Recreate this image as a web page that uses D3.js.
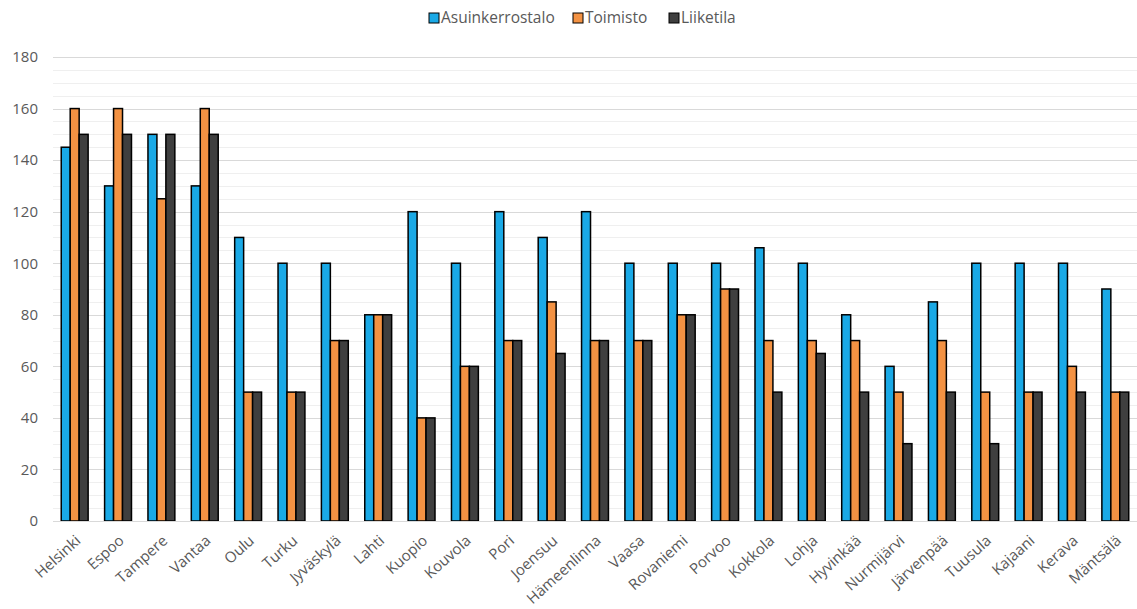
<!DOCTYPE html>
<html>
<head>
<meta charset="utf-8">
<script src="https://cdn.jsdelivr.net/npm/d3@7"></script>
<style>
  body { margin: 0; background: #fff; }
  text { font-family: "Open Sans", "DejaVu Sans", sans-serif; fill: #595959; }
</style>
</head>
<body>
<div id="chart"></div>
<script>
// kaupungit ja sarjat
var cities = ["Helsinki", "Espoo", "Tampere", "Vantaa", "Oulu", "Turku", "Jyväskylä", "Lahti", "Kuopio", "Kouvola",
    "Pori", "Joensuu", "Hämeenlinna", "Vaasa", "Rovaniemi", "Porvoo", "Kokkola", "Lohja", "Hyvinkää", "Nurmijärvi",
    "Järvenpää", "Tuusula", "Kajaani", "Kerava", "Mäntsälä"];
var asuinkerrostalo = [145, 130, 150, 130, 110, 100, 100, 80, 120, 100, 120, 110, 120, 100, 100, 100, 106, 100, 80, 60, 85, 100, 100, 100, 90];
var toimisto = [160, 160, 125, 160, 50, 50, 70, 80, 40, 60, 70, 85, 70, 70, 80, 90, 70, 70, 70, 50, 70, 50, 50, 60, 50];
var liiketila = [150, 150, 150, 150, 50, 50, 70, 80, 40, 60, 70, 65, 70, 70, 80, 90, 50, 65, 50, 30, 50, 30, 50, 50, 50];
var seriesNames = ["Asuinkerrostalo", "Toimisto", "Liiketila"];
var colors = ["#1aa9e6", "#f39243", "#3f3f3f"];
var yTicks = [0, 20, 40, 60, 80, 100, 120, 140, 160, 180];

var width = 1137;
var height = 609;
var pLeft = 53, pRight = 1137, pTop = 57, pBottom = 521;

var svg = d3.select("#chart")
    .append("svg")
    .attr("width", width)
    .attr("height", height);

var series = [asuinkerrostalo, toimisto, liiketila];
var data = cities.map(function (c, i) {
    return { city: c, values: series.map(function (s, k) { return { key: k, value: s[i] }; }) };
});

var xScale = d3.scaleBand()
    .domain(cities)
    .range([pLeft, pRight])
    .paddingInner(0.38)
    .paddingOuter(0.19);

var inner = d3.scaleBand()
    .domain([0, 1, 2])
    .range([0, xScale.bandwidth()]);

var yScale = d3.scaleLinear()
    .domain([0, 180])
    .range([pBottom, pTop]);

// apuviivat
svg.append("g")
    .selectAll("line")
    .data(d3.range(0, 181, 5))
    .enter()
    .append("line")
    .attr("x1", pLeft)
    .attr("x2", pRight)
    .attr("y1", function (d) { return Math.round(yScale(d)) + 0.5; })
    .attr("y2", function (d) { return Math.round(yScale(d)) + 0.5; })
    .attr("stroke", function (d) { return d % 20 == 0 ? "#d9d9d9" : "#efefef"; })
    .attr("stroke-width", 1);

// Y-akseli
var yAxis = d3.axisLeft(yScale)
    .tickValues(yTicks)
    .tickSize(0)
    .tickPadding(15);

var yg = svg.append("g")
    .attr("transform", "translate(" + pLeft + ",0)")
    .call(yAxis);
yg.select(".domain").remove();
yg.selectAll("text")
    .style("font-size", "15px")
    .attr("fill", "#595959");

// pylväät
svg.append("g")
    .selectAll("g")
    .data(data)
    .enter()
    .append("g")
    .attr("transform", function (d) { return "translate(" + xScale(d.city) + ",0)"; })
    .selectAll("rect")
    .data(function (d) { return d.values; })
    .enter()
    .append("rect")
    .attr("x", function (d) { return inner(d.key); })
    .attr("y", function (d) { return yScale(d.value); })
    .attr("width", inner.bandwidth())
    .attr("height", function (d) { return pBottom - yScale(d.value); })
    .attr("fill", function (d) { return colors[d.key]; })
    .attr("stroke", "#000")
    .attr("stroke-width", 1.5);

// X-akseli
var xAxis = d3.axisBottom(xScale)
    .tickSize(0)
    .tickPadding(0);

var xg = svg.append("g")
    .attr("transform", "translate(0," + pBottom + ")")
    .call(xAxis);
xg.select(".domain")
    .attr("stroke", "#d9d9d9");
xg.selectAll("text")
    .style("font-size", "15px")
    .style("text-anchor", "end")
    .attr("fill", "#595959")
    .attr("dy", "0")
    .attr("transform", "translate(7,21) rotate(-42)");

// selite
var legend = svg.append("g")
    .attr("transform", "translate(429,18)");
var gaps = [0, 144, 240];
seriesNames.forEach(function (name, k) {
    var g = legend.append("g").attr("transform", "translate(" + gaps[k] + ",0)");
    g.append("rect")
        .attr("x", 0)
        .attr("y", -5)
        .attr("width", 10)
        .attr("height", 10)
        .attr("fill", colors[k])
        .attr("stroke", "#000")
        .attr("stroke-width", 1);
    g.append("text")
        .attr("x", 12)
        .attr("y", 5)
        .style("font-size", "15.5px")
        .text(name);
});
</script>
</body>
</html>
